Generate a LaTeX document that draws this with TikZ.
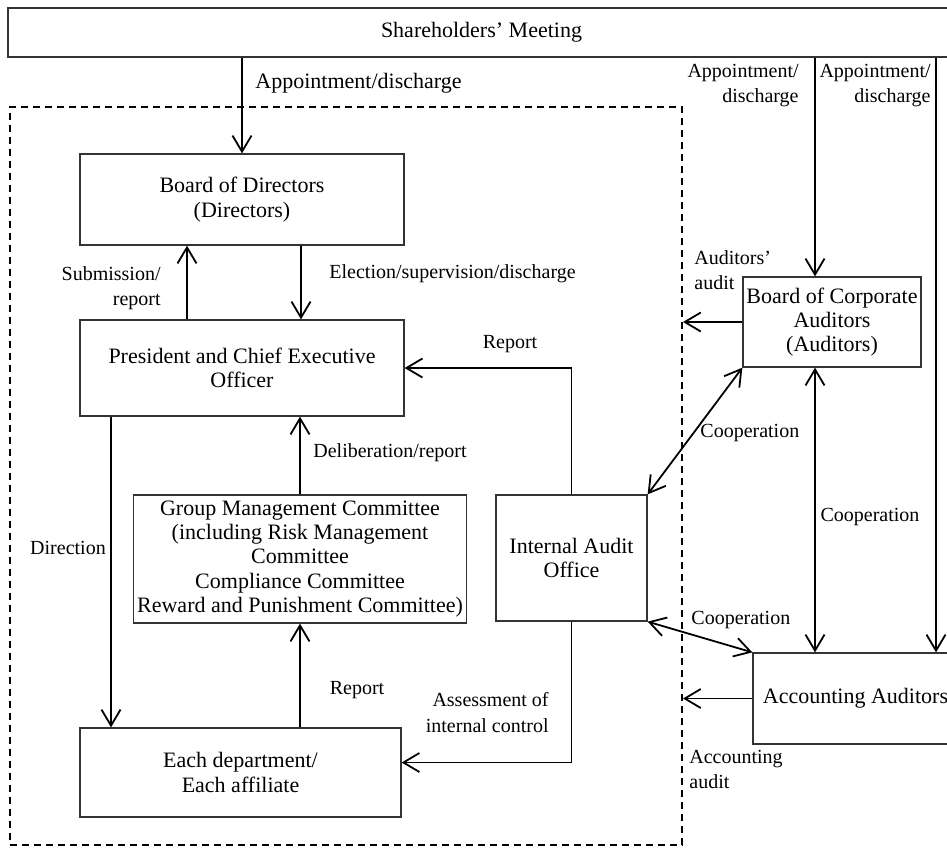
\documentclass[tikz,border=0pt]{standalone}
\usepackage{fontspec}
\setmainfont{Liberation Serif}
\usetikzlibrary{arrows.meta}
\tikzset{every node/.style={font=\fontsize{11}{12.2}\selectfont,inner sep=0pt}}
\tikzset{box/.style = {draw=black!80,line width=0.65pt,align=center}}
\tikzset{lab/.style = {font=\fontsize{10}{12.8}\selectfont}}
\tikzset{frame/.style = {draw,dash pattern=on 3.5pt off 2.5pt,line width=1pt}}
\tikzset{arr/.style = {line width=0.9pt,-{Straight Barb[length=8pt,width=9.5pt]}}}
\tikzset{coop/.style = {line width=0.9pt,{Straight Barb[length=8pt,width=9.5pt]}-{Straight Barb[length=8pt,width=9.5pt]}}}

\begin{document}
\begin{tikzpicture}[x=0.5pt,y=-0.5pt]
      \useasboundingbox (0,0) rectangle (947,847);
      \clip (0,0) rectangle (947,847);

      \node[frame,minimum width=336pt,minimum height=369pt] (frame) at (346,476) {};

      \node[box,minimum width=473.5pt,minimum height=24.5pt] (share) at (481.5,32.5) {Shareholders’ Meeting};
      \node[box,minimum width=162pt,minimum height=45.5pt] (bod) at (242,199.5) {Board of Directors\\(Directors)};
      \node[box,minimum width=162pt,minimum height=48pt] (pceo) at (242,368) {President and Chief Executive\\Officer};
      \node[box,minimum width=166.5pt,minimum height=64pt] (gmc) at (300,559) {Group Management Committee\\(including Risk Management\\Committee\\Compliance Committee\\Reward and Punishment Committee)};
      \node[box,minimum width=75.5pt,minimum height=63pt] (iao) at (571.5,558) {Internal Audit\\Office};
      \node[box,minimum width=160.5pt,minimum height=44.5pt] (dept) at (240.5,772.5) {Each department/\\Each affiliate};
      \node[box,minimum width=89pt,minimum height=45pt] (bca) at (832,322) {Board of Corporate\\Auditors\\(Auditors)};
      \node[box,minimum width=102.5pt,minimum height=45.5pt] (acc) at (855.5,698.5) {Accounting Auditors};

      \node[anchor=west] (l1) at (255,83) {Appointment/discharge};
      \node[lab,anchor=east,align=right] (l2) at (161,288) {Submission/\\report};
      \node[lab,anchor=west] (l3) at (329,274) {Election/supervision/discharge};
      \node[lab] (l4) at (510,344) {Report};
      \node[lab,anchor=west] (l5) at (313,453) {Deliberation/report};
      \node[lab] (l6) at (68,548) {Direction};
      \node[lab] (l7) at (357,690) {Report};
      \node[lab,anchor=east,align=right] (l8) at (549,712.5) {Assessment of\\internal control};
      \node[lab,anchor=east,align=right] (l9) at (799,85.5) {Appointment/\\discharge};
      \node[lab,anchor=east,align=right] (l10) at (931,85.5) {Appointment/\\discharge};
      \node[lab,anchor=west,align=left] (l11) at (694,270) {Auditors’\\audit};
      \node[lab,anchor=west] (l12) at (700,433) {Cooperation};
      \node[lab] (l13) at (870,517) {Cooperation};
      \node[lab,anchor=west] (l14) at (691,620) {Cooperation};
      \node[lab,anchor=west,align=left] (l15) at (689,769.5) {Accounting\\audit};

      \coordinate (ax) at (815,0);
      \coordinate (bx) at (936,0);
      \coordinate (dx) at (111,0);

 \draw[arr] (bod.north |- share.south) -- (bod.north);
 \draw[arr] ([xshift=-27.5pt]pceo.north) -- ([xshift=-27.5pt]bod.south);
 \draw[arr] ([xshift=29.5pt]bod.south) -- ([xshift=29.5pt]pceo.north);
 \draw[arr] (gmc.north) -- (gmc.north |- pceo.south);
 \draw[arr] (gmc.south |- dept.north) -- (gmc.south);
 \draw[arr] (dx |- pceo.south) -- (dx |- dept.north);
 \draw[arr] (iao.north) |- (pceo.east);
 \draw[arr] (iao.south) |- ([yshift=5pt]dept.east);
 \draw[arr] (ax |- share.south) -- (ax |- bca.north);
 \draw[arr] (bx |- share.south) -- (bx |- acc.north);

 \foreach \n in {bca,acc}
   \draw[arr] (\n.west) -- (\n.west -| frame.east);

 \foreach \a/\b in {iao.north east/bca.south west,iao.south east/acc.north west}
   \draw[coop] (\a) -- (\b);
 \draw[coop] (ax |- bca.south) -- (ax |- acc.north);

\end{tikzpicture}
\end{document}
